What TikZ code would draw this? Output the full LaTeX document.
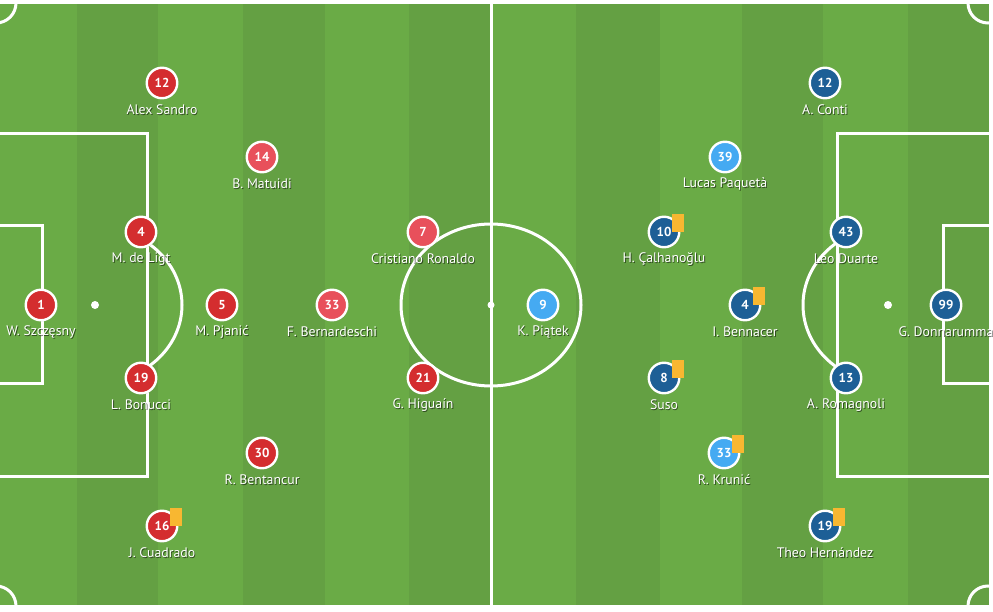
\documentclass[tikz,border=0pt]{standalone}
\usepackage{fontspec}
\setmainfont{PT Sans}
\usetikzlibrary{shadows}
\definecolor{grassL}{HTML}{6AAB46}
\definecolor{grassD}{HTML}{64A043}
\definecolor{juvD}{HTML}{D42D2F}
\definecolor{juvL}{HTML}{E8505B}
\definecolor{milD}{HTML}{1D5F96}
\definecolor{milL}{HTML}{45AAF2}
\definecolor{cardY}{HTML}{F8B731}
\tikzset{
  pline/.style={draw=white,line width=3pt},
  disc/.style={circle,draw=white,line width=2.4pt,minimum size=30.5pt,inner sep=0pt,
    text=white,font=\bfseries\fontsize{13}{14}\selectfont,
    drop shadow={shadow xshift=0.6pt,shadow yshift=-1pt,opacity=0.35,fill=black}},
  jd/.style={disc,fill=juvD},
  jl/.style={disc,fill=juvL},
  md/.style={disc,fill=milD},
  ml/.style={disc,fill=milL},
  lbl/.style={text=white,inner sep=0pt,font=\fontsize{13.8}{15}\selectfont},
  lblsh/.style={text=black,text opacity=0.55,inner sep=0pt,font=\fontsize{13.8}{15}\selectfont},
  ycard/.style={fill=cardY,draw=none},
}
\newcommand\plyr[6]{%
  \node[#4] (#1) at (#2,#3) {#5};
  \node[lblsh] (#1-s) at (#2+0.9,#3+27.9) {#6};
  \node[lbl] (#1-l) at (#2,#3+27) {#6};}
\newcommand\ycardat[1]{%
  \path[ycard] ([shift={(8,-18)}]#1.center) rectangle ([shift={(20,0)}]#1.center);}
\begin{document}
\begin{tikzpicture}[x=1pt,y=-1pt]
\useasboundingbox (0,0) rectangle (993,612);
\fill[white] (0,0) rectangle (993,612);
% stripes
\foreach \a/\b [count=\i] in {0/77,77/158,158/243,243/325,325/409,409/491,491/576,576/660,660/742,742/823,823/908,908/989}{
  \ifodd\i \fill[grassL] (\a,3) rectangle (\b,606); \else \fill[grassD] (\a,3) rectangle (\b,606); \fi
}
\begin{scope}
\clip (0,0) rectangle (993,612);
% touch lines
\draw[pline] (-10,3) -- (991,3);
\draw[pline] (-10,606) -- (991,606);
% halfway line
\draw[pline] (491,3) -- (491,606);
% centre circle and spot
\draw[pline] (491,305) ellipse [x radius=90, y radius=81];
\fill[white] (491,305) circle (3.5);
% penalty areas
\draw[pline] (-10,134) -- (147,134) -- (147,476) -- (-10,476);
\draw[pline] (1000,134) -- (837,134) -- (837,476) -- (1000,476);
% goal areas
\draw[pline] (-10,226) -- (42,226) -- (42,383) -- (-10,383);
\draw[pline] (1000,226) -- (943,226) -- (943,383) -- (1000,383);
% penalty spots
\fill[white] (95,305) circle (4);
\fill[white] (888,305) circle (4);
% penalty arcs
\begin{scope}
\clip (147,0) rectangle (400,612);
\draw[pline] (95,305) ellipse [x radius=87, y radius=78];
\end{scope}
\begin{scope}
\clip (600,0) rectangle (837,612);
\draw[pline] (888,305) ellipse [x radius=85, y radius=78];
\end{scope}
% corner arcs
\draw[pline] (-4,3) circle (20);
\draw[pline] (-4,606) circle (20);
\draw[pline] (988,3) circle (20);
\draw[pline] (988,606) circle (20);
\end{scope}
% Juventus
\plyr{j12}{162}{83}{jd}{12}{Alex Sandro}
\plyr{j14}{262}{157}{jl}{14}{B. Matuidi}
\plyr{j4}{141}{232}{jd}{4}{M. de Ligt}
\plyr{j1}{41}{305}{jd}{1}{W. Szczęsny}
\plyr{j5}{222}{305}{jd}{5}{M. Pjanić}
\plyr{j33}{332}{305}{jl}{33}{F. Bernardeschi}
\plyr{j7}{423}{232}{jl}{7}{Cristiano Ronaldo}
\plyr{j19}{141}{378}{jd}{19}{L. Bonucci}
\plyr{j21}{423}{378}{jd}{21}{G. Higuaín}
\plyr{j30}{262}{453}{jd}{30}{R. Bentancur}
\plyr{j16}{162}{526}{jd}{16}{J. Cuadrado}
\ycardat{j16}
% Milan
\plyr{m12}{825}{83}{md}{12}{A. Conti}
\plyr{m39}{725}{157}{ml}{39}{Lucas Paquetà}
\plyr{m10}{664}{232}{md}{10}{H. Çalhanoğlu}
\plyr{m43}{846}{232}{md}{43}{Leo Duarte}
\plyr{m9}{543}{305}{ml}{9}{K. Piątek}
\plyr{m4}{745}{305}{md}{4}{I. Bennacer}
\plyr{m99}{946}{305}{md}{99}{G. Donnarumma}
\plyr{m8}{664}{378}{md}{8}{Suso}
\plyr{m13}{846}{378}{md}{13}{A. Romagnoli}
\plyr{m33}{724}{453}{ml}{33}{R. Krunić}
\plyr{m19}{825}{526}{md}{19}{Theo Hernández}
\ycardat{m10}
\ycardat{m4}
\ycardat{m8}
\ycardat{m33}
\ycardat{m19}
\end{tikzpicture}
\end{document}
